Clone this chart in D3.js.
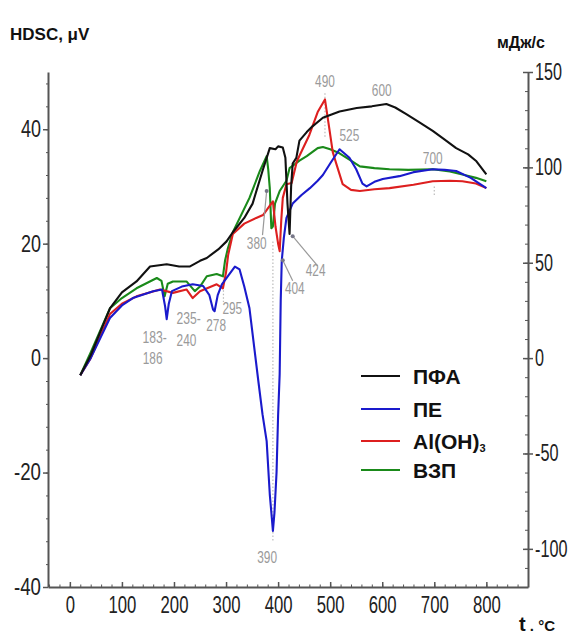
<!DOCTYPE html>
<html><head><meta charset="utf-8">
<script src="https://cdn.jsdelivr.net/npm/d3@7"></script>
<style>
body{margin:0;background:#fff;}
svg{display:block;}
</style></head>
<body><svg id="c" width="574" height="636"></svg>
<script>
// ---- data (temperature °C, HDSC µV) ----
const pfaT = [20,40,77,100,128,154,186,210,230,250,263,285,301,313,335,351,370,384,395,400,409,414,418,422,425,428,435,441,455,466,486,518,551,580,608,625,647,670,697,720,742,765,781,800];
const pfaV = [-3,0.5,8.7,11.5,13.4,16,16.4,16,16,17,17.5,19,20.4,22,24.5,27,32.7,36.7,36.5,37,36.8,35,27,21.7,30,34,35,38,39.5,40.5,42,43.1,43.7,44,44.4,43.8,42.6,41.3,39.7,38.2,36.7,35.6,34.4,32.1];

const peT = [20,40,77,100,121,160,177,183,186,190,196,215,236,256,268,275,278,284,292,305,317,326,335,345,355,362,370,378,384,388,390,393,397,400,403,405,407,411,416,428,445,461,476,486,500,518,527,537,550,562,570,585,601,633,660,697,720,742,770,800];
const peV = [-3,0,7,9.2,10.5,11.7,12,9,6.8,9.5,11.7,12.5,12.9,12.6,11,8.5,8.2,11,12.9,14.5,16,15.5,12.5,8.7,1.2,-4,-9.8,-14.5,-23.8,-28,-30.2,-27,-20,-10,-2.8,10,17,21,24.5,27,28.5,29.7,31,32,34,36.5,35.8,35,33,30.5,30,30.8,31.3,31.8,32.5,33,32.9,32.7,31.5,29.7];

const alT = [20,40,77,100,128,173,198,224,236,250,282,294,300,304,313,335,358,371,390,395,400,403,406,409,416,426,436,460,476,490,499,505,512,524,540,557,585,614,660,697,730,754,780,800];
const alV = [-3,0,7.7,9.5,10.8,12,11.4,12,10.5,11.7,12.9,12.2,15,18,21.7,23.5,24.5,25,27.4,23,20,18.7,24,28,30.4,30.6,34.4,39,43,45.2,39.7,36,33.9,30.4,29.4,29.2,29.5,29.7,30.3,30.9,31,30.9,30.5,29.7];

const vzpT = [20,40,77,100,128,167,176,182,188,198,224,240,250,263,282,294,298,303,313,345,365,378,381,384,387,390,394,403,416,422,441,455,476,486,500,518,540,557,585,614,650,697,730,754,780,800];
const vzpV = [-3,1,8.7,10.5,12.2,14,13.5,10.8,13,13.4,13.4,11.7,12.5,14.3,14.7,14.3,17,19,22,28,32.7,35.3,33,29.7,22.7,23,27,29.2,31,33.2,34.5,35.3,36.7,36.9,36.5,35.8,34.5,33.5,33.2,33,32.9,33,32.6,32.1,31.5,30.9];

const seriesNames = ["ПФА","ПЕ","Al(OH)","ВЗП"];
const seriesColors = ["#111111","#1a1acc","#dd1f1f","#1a8a1a"];

const xTicks = [0,100,200,300,400,500,600,700,800];
const yLeftTicks = [-40,-20,0,20,40];
const yRightTicks = [-100,-50,0,50,100,150];

// peak annotations: label, T, value of label baseline
const annLabels = ["490","600","525","700","380","404","424","295","278","235-","240","183-","186","390"];
const annT = [490,599,537,697,359,432,472,312,281,228,224,163,159,379];
const annV = [47.4,45.8,37.9,33.9,19,11.2,14.3,7.7,4.7,5.9,2.1,2.6,-1,-35.8];
// dotted marker lines: T, v from, v to
const dotT = [390,490,295,700];
const dotV1 = [20.4,46.3,14.3,30];
const dotV2 = [-32,38.4,9.8,28.3];

// ---- drawing ----
const svg = d3.select("#c");
const x = d3.scaleLinear().domain([-42,880]).range([48,528]);
const yL = d3.scaleLinear().domain([-40,50]).range([587,72]);
const yR = d3.scaleLinear().domain([-120,150]).range([587,72]);
const axisCol = "#555";
const fmt = d => String(d); // plain hyphen minus like the original
// condense text horizontally (narrow font look) by a scale around its anchor point
function narrow(sel, digitW, dashW){
  sel.each(function(){
    const s = this.textContent;
    let w = 0; for(const ch of s){ w += (ch==='-') ? dashW : digitW; }
    const nat = this.getComputedTextLength();
    if(!nat) return;
    const k = w/nat;
    const ax = +this.getAttribute("x") || 0;
    const ay = +this.getAttribute("y") || 0;
    d3.select(this).attr("transform",`translate(${ax},${ay}) scale(${k},1) translate(${-ax},${-ay})`);
  });
}

// dotted lines
dotT.forEach((t,i)=>{
  svg.append("line").attr("x1",x(t)).attr("x2",x(t)).attr("y1",yL(dotV1[i])).attr("y2",yL(dotV2[i]))
    .attr("stroke","#bbb").attr("stroke-width",1.2).attr("stroke-dasharray","1.5,2");
});

// series
const line = d3.line().x(d=>x(d[0])).y(d=>yL(d[1])).curve(d3.curveLinear);
const allT = [pfaT,peT,alT,vzpT], allV=[pfaV,peV,alV,vzpV];
[3,2,1,0].forEach(i=>{
  const pts = allT[i].map((t,j)=>[t,allV[i][j]]);
  svg.append("path").datum(pts).attr("d",line).attr("fill","none")
    .attr("stroke",seriesColors[i]).attr("stroke-width",2.1).attr("stroke-linejoin","round");
});

// axes
function styleAxis(g){ g.selectAll("path,line").attr("stroke",axisCol).attr("stroke-width",1.5); g.select(".domain").attr("stroke-width",2); }
const tf = "Liberation Sans, Arial, sans-serif";
// left
const gl = svg.append("g").attr("transform","translate(48,0)")
  .call(d3.axisLeft(yL).tickValues(yLeftTicks).tickFormat(fmt).tickSize(5).tickSizeOuter(0).tickPadding(2));
styleAxis(gl);
gl.selectAll("text").attr("font-family",tf).attr("font-size",23).attr("fill","#222").call(narrow,10,7);
const glm = svg.append("g").attr("transform","translate(48,0)")
  .call(d3.axisLeft(yL).tickValues(d3.range(-40,51,4)).tickSize(2).tickFormat(""));
glm.select(".domain").remove(); glm.selectAll("line").attr("stroke",axisCol);
// right
const gr = svg.append("g").attr("transform","translate(528,0)")
  .call(d3.axisRight(yR).tickValues(yRightTicks).tickFormat(fmt).tickSize(5).tickSizeOuter(0).tickPadding(2));
styleAxis(gr);
gr.selectAll(".tick line").attr("x1",-5);
gr.selectAll("text").attr("font-family",tf).attr("font-size",23).attr("fill","#222").call(narrow,9,5.5);
const grm = svg.append("g").attr("transform","translate(528,0)")
  .call(d3.axisLeft(yR).tickValues(d3.range(-120,151,10)).tickSize(3).tickFormat(""));
grm.select(".domain").remove(); grm.selectAll("line").attr("stroke",axisCol);
// bottom
const gb = svg.append("g").attr("transform","translate(0,587)")
  .call(d3.axisBottom(x).tickValues(xTicks).tickFormat(fmt).tickSize(-5).tickSizeOuter(0).tickPadding(4));
styleAxis(gb);
gb.selectAll("text").attr("font-family",tf).attr("font-size",23).attr("fill","#222").attr("dy","0.95em").call(narrow,9.3,6);
const gbm = svg.append("g").attr("transform","translate(0,587)")
  .call(d3.axisBottom(x).tickValues(d3.range(-40,881,20)).tickSize(-2.5).tickFormat(""));
gbm.select(".domain").remove(); gbm.selectAll("line").attr("stroke",axisCol);

// annotations
annLabels.forEach((s,i)=>{
  svg.append("text").attr("x",x(annT[i])).attr("y",yL(annV[i])).attr("font-family",tf)
    .attr("text-anchor","middle").attr("font-size",17).attr("fill","#9a9a9a").text(s).call(narrow,6.6,4.5);
});
// pointer lines
const ptrs = [[370,21.5,378,29.2],[428,13.5,409,17.1],[476,16.1,428,21.3]];
ptrs.forEach(p=>{
  svg.append("line").attr("x1",x(p[0])).attr("y1",yL(p[1])).attr("x2",x(p[2])).attr("y2",yL(p[3]))
    .attr("stroke","#999").attr("stroke-width",1.2);
  svg.append("circle").attr("cx",x(p[2])).attr("cy",yL(p[3])).attr("r",2).attr("fill","#778");
});

// titles
svg.append("text").attr("x",10).attr("y",40).attr("font-family",tf)
  .attr("font-weight","bold").attr("font-size",17).attr("fill","#111").text("HDSC, μV");
svg.append("text").attr("x",497).attr("y",48).attr("font-family",tf)
  .attr("font-weight","bold").attr("font-size",16).attr("fill","#111").text("мДж/с");
const tl = svg.append("text").attr("x",519).attr("y",631).attr("font-family",tf)
  .attr("font-weight","bold").attr("fill","#111");
tl.append("tspan").attr("font-size",20).text("t");
tl.append("tspan").attr("font-size",15).text(" . °C");

// legend
const legY = [376,409,441,470];
seriesNames.forEach((n,i)=>{
  svg.append("line").attr("x1",361).attr("x2",400).attr("y1",legY[i]).attr("y2",legY[i])
    .attr("stroke",seriesColors[i]).attr("stroke-width",2);
  const t = svg.append("text").attr("x",413).attr("y",legY[i]).attr("dy","0.36em")
    .attr("font-family",tf).attr("font-weight","bold")
    .attr("font-size",21).attr("fill","#111").text(n);
  if(i===2) t.append("tspan").attr("font-size",11).attr("dy","0.35em").text("3");
});
</script></body></html>
